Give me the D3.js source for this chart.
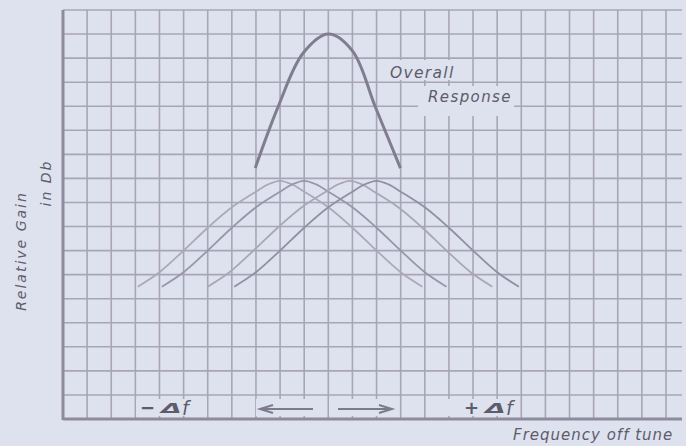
<!DOCTYPE html>
<html>
<head>
<meta charset="utf-8">
<script src="https://cdn.jsdelivr.net/npm/d3@7"></script>
<style>
  body { margin: 0; background: #dde2ee; }
  text { font-family: "DejaVu Sans", sans-serif; font-style: italic; fill: #5e5b6d; }
</style>
</head>
<body>
<div id="chart"></div>
<script>
// grid is in squares: frequency offset (columns from centre) and gain (rows from bottom)
const freqCols = d3.range(-11, 15)
const gainRows = d3.range(0, 18)

// overall response of the staggered stages
const overallFreq = [-3.03, -2.1, -1.05, 0, 1.0, 1.95, 2.99]
const overallGain = [10.43, 12.93, 15.2, 16.0, 15.3, 12.97, 10.43]

// single stage curves, each [freq, gain]
const stageA = [[-7.9, 5.5], [-7, 6.1], [-6, 7.0], [-5, 7.95], [-4, 8.8], [-3, 9.45], [-2.5, 9.75], [-2, 9.9],
                [-1.5, 9.75], [-1, 9.45], [0, 8.8], [1, 7.95], [2, 7.0], [3, 6.1], [3.9, 5.5]]
const stageB = [[-6.9, 5.5], [-6, 6.1], [-5, 7.0], [-4, 7.95], [-3, 8.8], [-2, 9.45], [-1.5, 9.75], [-1, 9.9],
                [-0.5, 9.75], [0, 9.45], [1, 8.8], [2, 7.95], [3, 7.0], [4, 6.1], [4.9, 5.5]]
const stageC = [[-5.0, 5.5], [-4.1, 6.1], [-3.1, 7.0], [-2.1, 7.95], [-1.1, 8.8], [-0.1, 9.45], [0.4, 9.75], [0.9, 9.9],
                [1.4, 9.75], [1.9, 9.45], [2.9, 8.8], [3.9, 7.95], [4.9, 7.0], [5.9, 6.1], [6.8, 5.5]]
const stageD = [[-3.9, 5.5], [-3, 6.1], [-2, 7.0], [-1, 7.95], [0, 8.8], [1, 9.45], [1.5, 9.75], [2, 9.9],
                [2.5, 9.75], [3, 9.45], [4, 8.8], [5, 7.95], [6, 7.0], [7, 6.1], [7.9, 5.5]]
const stageColors = ['#aca8ba', '#9995aa', '#aaa6b8', '#928ea3']

const width = 686, height = 446
const plotLeft = 63, plotTop = 10, plotRight = 666, plotBottom = 419

const x = d3.scaleLinear().domain([-11, 14]).range([plotLeft, plotRight])
const y = d3.scaleLinear().domain([0, 17]).range([plotBottom, plotTop])

const svg = d3.select('#chart').append('svg')
    .attr('width', width)
    .attr('height', height)

// graph paper
const grid = svg.append('g')
    .attr('stroke', '#a9a5b7')
    .attr('stroke-width', 1.6)
grid.selectAll('.v').data(freqCols).join('line')
    .attr('x1', d => x(d)).attr('x2', d => x(d))
    .attr('y1', plotTop).attr('y2', plotBottom)
grid.selectAll('.h').data(gainRows).join('line')
    .attr('x1', plotLeft).attr('x2', 682)
    .attr('y1', d => y(d)).attr('y2', d => y(d))

// blank patches where lettering was put on the paper
const patches = [
    [136, 399, 71, 17], [256, 399, 70, 17], [329, 399, 70, 17], [448, 399, 71, 17],
    [388, 60, 72, 20], [418, 86, 96, 30]
]
svg.selectAll('.patch').data(patches).join('rect')
    .attr('x', d => d[0]).attr('y', d => d[1])
    .attr('width', d => d[2]).attr('height', d => d[3])
    .attr('fill', '#dde2ee')

// heavier axes
svg.append('line')
    .attr('x1', plotLeft).attr('x2', plotLeft).attr('y1', plotTop).attr('y2', plotBottom + 1)
    .attr('stroke', '#8f8b9e').attr('stroke-width', 3)
svg.append('line')
    .attr('x1', plotLeft).attr('x2', 682).attr('y1', plotBottom).attr('y2', plotBottom)
    .attr('stroke', '#8f8b9e').attr('stroke-width', 3)

const line = d3.line()
    .x(d => x(d[0]))
    .y(d => y(d[1]))
    .curve(d3.curveCatmullRom.alpha(0.5))

svg.selectAll('.stage').data([stageA, stageB, stageC, stageD]).join('path')
    .attr('d', line)
    .attr('fill', 'none')
    .attr('stroke', (d, i) => stageColors[i])
    .attr('stroke-width', 1.8)

svg.append('path')
    .datum(d3.zip(overallFreq, overallGain))
    .attr('d', line)
    .attr('fill', 'none')
    .attr('stroke', '#817d91')
    .attr('stroke-width', 3)

// labels
svg.append('text').attr('x', 390).attr('y', 78)
    .attr('font-size', 15.5).attr('letter-spacing', 1.3).text('Overall')
svg.append('text').attr('x', 428).attr('y', 102)
    .attr('font-size', 15).attr('letter-spacing', 1.4).text('Response')

svg.append('text')
    .attr('transform', 'translate(26,251) rotate(-90)')
    .attr('text-anchor', 'middle')
    .attr('font-size', 14).attr('letter-spacing', 2)
    .text('Relative Gain')
svg.append('text')
    .attr('transform', 'translate(51,183) rotate(-90)')
    .attr('text-anchor', 'middle')
    .attr('font-size', 14).attr('letter-spacing', 2)
    .text('in Db')

// −Δf and +Δf markers
const deltaLabels = [['−', 140], ['+', 464]]
deltaLabels.forEach(([sign, x0]) => {
    svg.append('text').attr('x', x0).attr('y', 414)
        .attr('font-size', 18).attr('font-style', 'normal').attr('font-weight', 'bold')
        .text(sign)
    svg.append('text').attr('transform', `translate(${x0 + 21},413) scale(1.9,0.95)`)
        .attr('font-size', 14).attr('font-style', 'normal').attr('font-weight', 'bold')
        .text('Δ')
    svg.append('text').attr('x', x0 + 42).attr('y', 415)
        .attr('font-size', 19).text('f')
})

// direction arrows
const arrows = [[313, 260], [338, 392]]
svg.selectAll('.arrow').data(arrows).join('path')
    .attr('d', d => {
        const dir = Math.sign(d[1] - d[0])
        return `M${d[0]},409 L${d[1]},409 M${d[1] - dir * 13},405 L${d[1]},409 L${d[1] - dir * 13},413`
    })
    .attr('fill', 'none')
    .attr('stroke', '#7c7a8c')
    .attr('stroke-width', 2)

svg.append('text').attr('x', 513).attr('y', 440)
    .attr('font-size', 15).attr('letter-spacing', 1.0).text('Frequency off tune')
</script>
</body>
</html>
